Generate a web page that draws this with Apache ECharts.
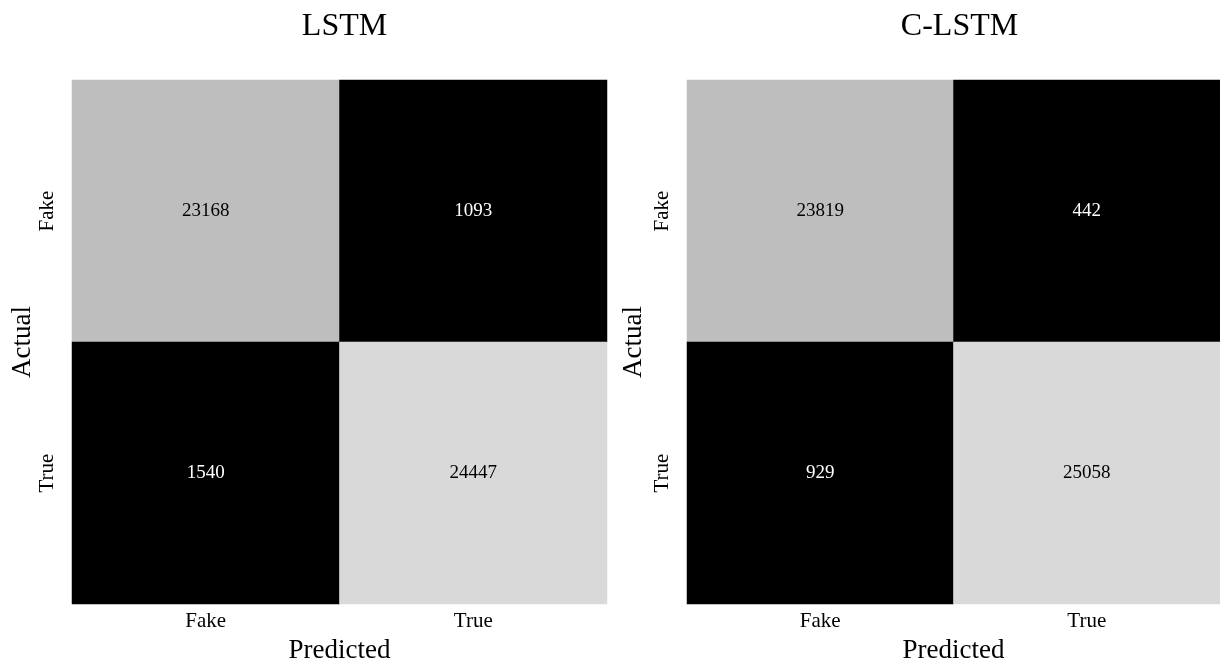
<!DOCTYPE html>
<html>
<head>
<meta charset="utf-8">
<script src="https://cdn.jsdelivr.net/npm/echarts@6/dist/echarts.min.js"></script>
<style>html,body{margin:0;padding:0;background:#fff}#c{width:1220px;height:669px}</style>
</head>
<body>
<div id="c"></div>
<script>
const predictedLabels = ['Fake', 'True'];
const actualLabels = ['Fake', 'True'];
const modelTitles = ['LSTM', 'C-LSTM'];
// rows: actual, cols: predicted
const lstmMatrix = [[23168, 1093], [1540, 24447]];
const clstmMatrix = [[23819, 442], [929, 25058]];

const FONT = '"Liberation Serif", "Times New Roman", serif';
const matrices = [lstmMatrix, clstmMatrix];
const grids = [
  {left: 72, top: 80, width: 535, height: 536},
  {left: 687, top: 80, width: 535, height: 536}
];
const mins = [14168, 15100];
const yNameGaps = [36, 40];

function toData(m) {
  const d = [];
  for (let r = 0; r < m.length; r++)
    for (let c = 0; c < m[r].length; c++)
      d.push({value: [c, r, m[r][c]], label: {color: r === c ? '#000000' : '#ffffff'}});
  return d;
}

const option = {
  backgroundColor: '#ffffff',
  animation: false,
  title: modelTitles.map((t, i) => ({
    text: t,
    left: grids[i].left + grids[i].width / 2,
    textAlign: 'center',
    top: 6,
    textStyle: {fontFamily: FONT, fontSize: 32, fontWeight: 'normal', color: '#000'}
  })),
  grid: grids,
  xAxis: grids.map((g, i) => ({
    type: 'category', gridIndex: i, data: predictedLabels,
    name: 'Predicted', nameLocation: 'middle', nameGap: 20,
    nameTextStyle: {fontFamily: FONT, fontSize: 27, color: '#000'},
    axisLine: {show: false}, axisTick: {show: false}, splitLine: {show: false},
    axisLabel: {fontFamily: FONT, fontSize: 21, color: '#000', margin: 7}
  })),
  yAxis: grids.map((g, i) => ({
    type: 'category', gridIndex: i, data: actualLabels, inverse: true,
    name: 'Actual', nameLocation: 'middle', nameGap: yNameGaps[i],
    nameTextStyle: {fontFamily: FONT, fontSize: 27, color: '#000'},
    axisLine: {show: false}, axisTick: {show: false}, splitLine: {show: false},
    axisLabel: {fontFamily: FONT, fontSize: 21, color: '#000', rotate: 90, margin: 14}
  })),
  visualMap: matrices.map((m, i) => ({
    type: 'continuous', show: false, seriesIndex: i,
    min: mins[i], max: Math.max(...m.flat()),
    inRange: {color: ['#000000', '#d9d9d9']},
    outOfRange: {color: '#000000'}
  })),
  series: matrices.map((m, i) => ({
    type: 'heatmap', xAxisIndex: i, yAxisIndex: i,
    data: toData(m),
    label: {show: true, fontFamily: FONT, fontSize: 19, color: '#000'},
    itemStyle: {borderWidth: 0}
  }))
};
echarts.init(document.getElementById('c')).setOption(option);
</script>
</body>
</html>
